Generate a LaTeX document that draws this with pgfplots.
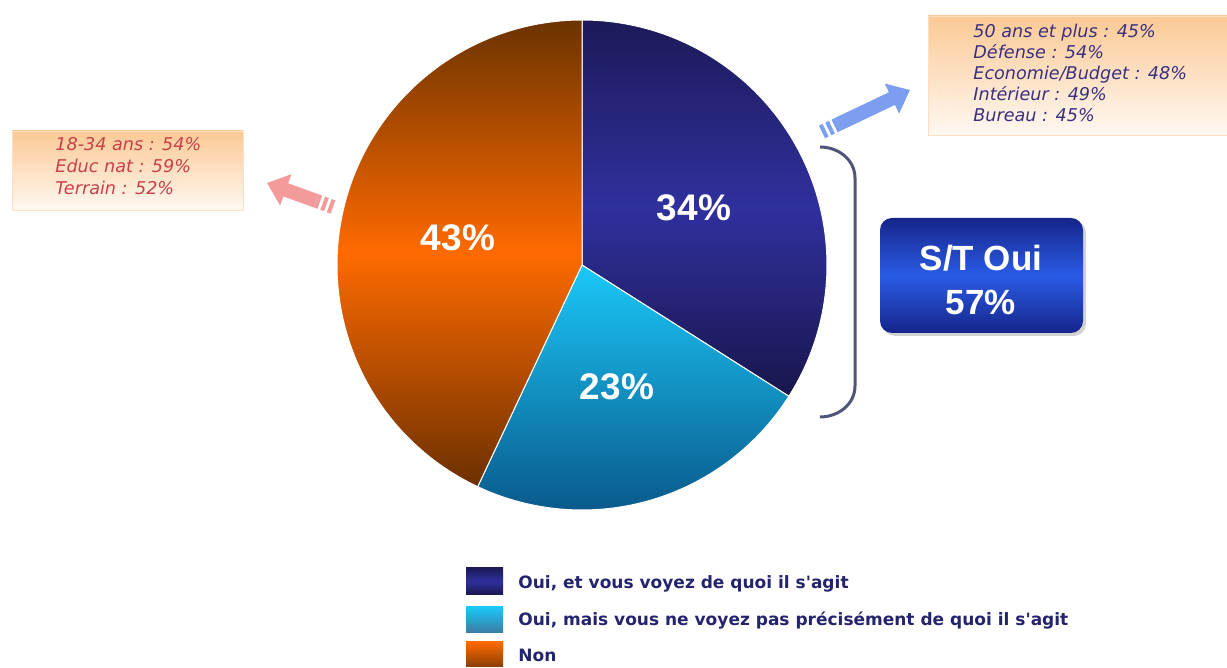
\documentclass[border=0pt]{standalone}
\usepackage{pgfplots}
\pgfplotsset{compat=1.18}
\usepackage{fontspec}
\setmainfont{Liberation Sans}
\newfontfamily\dejavu{DejaVu Sans}
\usetikzlibrary{arrows.meta,shadows}

\definecolor{bluetop}{HTML}{1C1A58}
\definecolor{bluemid}{HTML}{30309E}
\definecolor{bluebot}{HTML}{18164C}
\definecolor{cyantop}{HTML}{1AC8F8}
\definecolor{cyanbot}{HTML}{0A5A8C}
\definecolor{orgtop}{HTML}{6B3300}
\definecolor{orgmid}{HTML}{FF6A00}
\definecolor{orgbot}{HTML}{6B3000}
\definecolor{boxpeach}{HTML}{FBC994}
\definecolor{boxlight}{HTML}{FFF8F2}
\definecolor{redtxt}{HTML}{C8404A}
\definecolor{purtxt}{HTML}{3A3080}
\definecolor{legtxt}{HTML}{24246E}
\definecolor{pinkarrow}{HTML}{F39A9A}
\definecolor{bluearrow}{HTML}{7B9EF0}
\definecolor{bracecol}{HTML}{50537A}
\definecolor{stdark}{HTML}{16258A}
\definecolor{stmid}{HTML}{2A5BE6}

% data (percentages)
\def\vA{34}
\def\vB{23}
\def\vC{43}
% geometry (pixel units)
\def\cx{582}
\def\cy{403}
\def\R{245}
\pgfmathsetmacro\aA{90-3.6*\vA}
\pgfmathsetmacro\aB{\aA-3.6*\vB}
\pgfmathsetmacro\aC{\aB-3.6*\vC}

\tikzset{boxtxt/.style={anchor=base west, inner sep=0pt, font=\dejavu\itshape\fontsize{8.8}{10}\selectfont},
  legtext/.style={anchor=base west, inner sep=0pt, text=legtxt, font=\dejavu\bfseries\fontsize{8.5}{10}\selectfont},
  pielab/.style={text=white, font=\fontsize{18.5}{22}\selectfont\bfseries}}

\begin{document}
\begin{tikzpicture}
\begin{axis}[scale only axis, width=613.5pt, height=334pt,
  xmin=0, xmax=1227, ymin=0, ymax=668, hide axis, clip=false]
\coordinate (LL) at (axis cs:0,0);
\coordinate (UR) at (axis cs:1227,668);

% pie slices
\addplot[draw=white, line width=0.5pt, top color=bluetop, bottom color=bluebot, middle color=bluemid,
  domain=\aA:90, samples=100, variable=\t]
  ({\cx+\R*cos(\t)},{\cy+\R*sin(\t)}) -- (axis cs:\cx,\cy) -- cycle;
\addplot[draw=white, line width=0.5pt, top color=cyantop, bottom color=cyanbot,
  domain=\aB:\aA, samples=80, variable=\t]
  ({\cx+\R*cos(\t)},{\cy+\R*sin(\t)}) -- (axis cs:\cx,\cy) -- cycle;
\addplot[draw=white, line width=0.5pt, top color=orgtop, bottom color=orgbot, middle color=orgmid,
  domain=\aC:\aB, samples=120, variable=\t]
  ({\cx+\R*cos(\t)},{\cy+\R*sin(\t)}) -- (axis cs:\cx,\cy) -- cycle;

% slice labels
\node[pielab] at (axis cs:694,460) {\vA\%};
\node[pielab] at (axis cs:617,281) {\vB\%};
\node[pielab] at (axis cs:458,430) {\vC\%};

% left box
\shade[top color=boxpeach, bottom color=boxlight, draw=orange!25] (axis cs:12,537) rectangle (axis cs:243,458);
\node[boxtxt, text=redtxt] at (axis cs:55,517) {18-34 ans : 54\%};
\node[boxtxt, text=redtxt] at (axis cs:55,495) {Educ nat : 59\%};
\node[boxtxt, text=redtxt] at (axis cs:55,473) {Terrain : 52\%};

% right box
\shade[top color=boxpeach, bottom color=boxlight, draw=orange!25] (axis cs:928,652) rectangle (axis cs:1230,533);
\node[boxtxt, text=purtxt] at (axis cs:973,630) {50 ans et plus : 45\%};
\node[boxtxt, text=purtxt] at (axis cs:973,609) {Défense : 54\%};
\node[boxtxt, text=purtxt] at (axis cs:973,588) {Economie/Budget : 48\%};
\node[boxtxt, text=purtxt] at (axis cs:973,567) {Intérieur : 49\%};
\node[boxtxt, text=purtxt] at (axis cs:973,546) {Bureau : 45\%};

% pink arrow
\draw[pinkarrow, line width=7pt, -{Triangle[width=16pt,length=10pt]}] (axis cs:316,467.2) -- (axis cs:267,485);
\draw[pinkarrow, line width=7pt, dash pattern=on 2pt off 1.5pt] (axis cs:333,461) -- (axis cs:316,467.2);

% blue arrow
\draw[bluearrow, line width=7pt, -{Triangle[width=16pt,length=10pt]}] (axis cs:838.2,543.8) -- (axis cs:910,578);
\draw[bluearrow, line width=7pt, dash pattern=on 2pt off 1.5pt] (axis cs:822,536) -- (axis cs:838.2,543.8);

% brace
\draw[bracecol, line width=1.5pt] (axis cs:820,521) to[out=0,in=90] (axis cs:855,490) -- (axis cs:855,282) to[out=-90,in=0] (axis cs:820,251);

% S/T Oui box
\shade[rounded corners=6pt, top color=stdark, bottom color=stdark, middle color=stmid, drop shadow={opacity=0.35, shadow xshift=1.5pt, shadow yshift=-1.5pt}]
  (axis cs:880,450) rectangle (axis cs:1083,335);
\node[text=white, font=\fontsize{17.5}{20}\selectfont\bfseries] at (axis cs:981,410) {S/T Oui};
\node[text=white, font=\fontsize{17.5}{20}\selectfont\bfseries] at (axis cs:981,365) {57\%};

% legend
\shade[top color=bluetop, bottom color=bluebot, middle color=bluemid] (axis cs:466,100) rectangle (axis cs:503,73);
\shade[top color=cyantop, bottom color=cyanbot!80] (axis cs:466,61) rectangle (axis cs:503,35);
\shade[top color=orgmid, bottom color=orgtop!80!orgmid] (axis cs:466,26) rectangle (axis cs:503,1);
\node[legtext] at (axis cs:518,79) {Oui, et vous voyez de quoi il s'agit};
\node[legtext] at (axis cs:518,42) {Oui, mais vous ne voyez pas précisément de quoi il s'agit};
\node[legtext] at (axis cs:518,6) {Non};
\end{axis}
\pgfresetboundingbox
\path[use as bounding box] (LL) rectangle (UR);
\end{tikzpicture}
\end{document}
